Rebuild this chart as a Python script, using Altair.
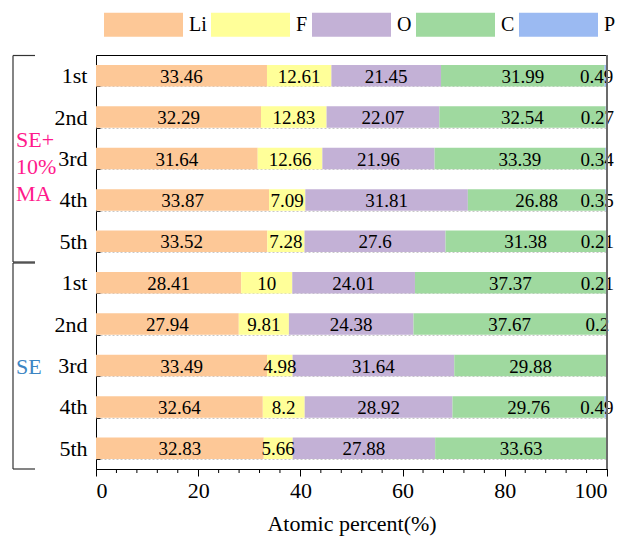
import altair as alt
import pandas as pd

# ---------------- data ----------------
elements = ["Li", "F", "O", "C", "P"]
colors = ["#FDC897", "#FFFF99", "#C3B1D6", "#9FD99F", "#9BBAF2"]
groups = ["SE+10%MA"] * 5 + ["SE"] * 5
cycles = ["1st", "2nd", "3rd", "4th", "5th"] * 2
li = [33.46, 32.29, 31.64, 33.87, 33.52, 28.41, 27.94, 33.49, 32.64, 32.83]
f = [12.61, 12.83, 12.66, 7.09, 7.28, 10, 9.81, 4.98, 8.2, 5.66]
o = [21.45, 22.07, 21.96, 31.81, 27.6, 24.01, 24.38, 31.64, 28.92, 27.88]
c = [31.99, 32.54, 33.39, 26.88, 31.38, 37.37, 37.67, 29.88, 29.76, 33.63]
p = [0.49, 0.27, 0.34, 0.35, 0.21, 0.21, 0.2, 0, 0.49, 0]
x_ticks = [0, 20, 40, 60, 80, 100]
x_minor = [4, 8, 12, 16, 24, 28, 32, 36, 44, 48, 52, 56, 64, 68, 72, 76, 84, 88, 92, 96]

rows = [g + "|" + cy for g, cy in zip(groups, cycles)]
series = {"Li": li, "F": f, "O": o, "C": c, "P": p}
recs = []
for i, r in enumerate(rows):
    for k, el in enumerate(elements):
        v = series[el][i]
        recs.append({"row": r, "element": el, "value": v, "order": k,
                     "label": f"{v:g}"})
df = pd.DataFrame(recs)

FONT = "'Liberation Serif', 'Times New Roman', serif"
W, H = 511, 414

x_axis = alt.Axis(values=x_ticks, tickSize=7, tickColor="black", domainColor="black",
                  labelFont=FONT, labelFontSize=22, labelColor="black", labelPadding=4,
                  titleFont=FONT, titleFontSize=22, titleFontWeight="normal",
                  titleColor="black", titlePadding=12, grid=False)
x_scale = alt.Scale(domain=[0, 100], nice=False, zero=True)

y_enc = alt.Y("row:N", sort=rows,
              scale=alt.Scale(paddingInner=0.48, paddingOuter=0.24),
              axis=alt.Axis(title=None, labelExpr="split(datum.value, '|')[1]",
                            domain=False, ticks=True, tickSize=4, tickColor="#222",
                            offset=-4, tickBand="extent",
                            grid=True, gridDash=[2, 2], gridColor="#C8C8C8",
                            labelFont=FONT, labelFontSize=22, labelColor="black",
                            labelPadding=9))

base = alt.Chart(df).transform_stack(
    stack="value", groupby=["row"], as_=["start", "end"],
    sort=[alt.SortField("order", order="ascending")]
).transform_calculate(mid="(datum.start + datum.end) / 2")

legend = alt.Legend(title=None, orient="none", legendX=8, legendY=-70,
                    direction="horizontal",
                    symbolType="M-1,-0.304H1V0.304H-1Z", symbolSize=6241,
                    symbolStrokeWidth=0, symbolOpacity=1,
                    labelFont=FONT, labelFontSize=20, labelColor="black",
                    labelOffset=6, columnPadding=4)

bars = base.mark_bar(opacity=1).encode(
    x=alt.X("start:Q", scale=x_scale, axis=x_axis, title="Atomic percent(%)"),
    x2="end:Q",
    y=y_enc,
    color=alt.Color("element:N", scale=alt.Scale(domain=elements, range=colors),
                    legend=legend),
    order=alt.Order("order:Q"),
)

texts = base.transform_filter("datum.value > 0 && datum.element != 'P'").mark_text(
    font=FONT, fontSize=19, color="black", baseline="middle", align="center", dy=1
).encode(
    x=alt.X("mid:Q", scale=x_scale, axis=x_axis, title="Atomic percent(%)"),
    y=y_enc,
    text="label:N",
)

ptexts = base.transform_filter("datum.value > 0 && datum.element == 'P'").mark_text(
    font=FONT, fontSize=19, color="black", baseline="middle", align="center", dx=-9, dy=1
).encode(
    x=alt.X("mid:Q", scale=x_scale, axis=x_axis, title="Atomic percent(%)"),
    y=y_enc,
    text="label:N",
)

minor = alt.Chart(pd.DataFrame({"v": x_minor})).mark_rule(color="black", strokeWidth=1).encode(
    x=alt.X("v:Q", scale=x_scale, axis=x_axis, title="Atomic percent(%)"),
    y=alt.value(H), y2=alt.value(H + 4),
)

right_border = alt.Chart(pd.DataFrame({"v": [100]})).mark_rule(
    color="#6B6B6B", strokeWidth=2
).encode(
    x=alt.X("v:Q", scale=x_scale, axis=x_axis, title="Atomic percent(%)"),
    y=alt.value(0), y2=alt.value(H),
)

one = pd.DataFrame({"a": [0]})
BX = -83
bracket_col = "#333333"
bracket = [
    alt.Chart(one).mark_rule(color=bracket_col, strokeWidth=1.2).encode(
        x=alt.value(BX), y=alt.value(0.5), y2=alt.value(H / 2)),
    alt.Chart(one).mark_rule(color=bracket_col, strokeWidth=1.2).encode(
        x=alt.value(BX), y=alt.value(H / 2 + 1), y2=alt.value(H)),
]
for yy in [0.5, H / 2, H / 2 + 1, H]:
    bracket.append(alt.Chart(one).mark_rule(color=bracket_col, strokeWidth=1.2).encode(
        x=alt.value(BX), x2=alt.value(BX + 22), y=alt.value(yy)))

lab_ma = alt.Chart(one).mark_text(
    font=FONT, fontSize=22, color="#FF1A8C", align="left", baseline="alphabetic",
    lineBreak="\n", lineHeight=27
).encode(x=alt.value(-80), y=alt.value(92), text=alt.value("SE+\n10%\nMA"))

lab_se = alt.Chart(one).mark_text(
    font=FONT, fontSize=22, color="#3C85C3", align="left", baseline="alphabetic"
).encode(x=alt.value(-80), y=alt.value(319), text=alt.value("SE"))

chart = alt.layer(bars, texts, ptexts, minor, right_border, *bracket, lab_ma, lab_se).properties(
    width=W, height=H, autosize="none",
    padding={"left": 88, "top": 47, "right": 10, "bottom": 68},
).configure_view(stroke="black", strokeWidth=1)

chart.save("out.html", embed_options={"renderer": "svg", "actions": False})
